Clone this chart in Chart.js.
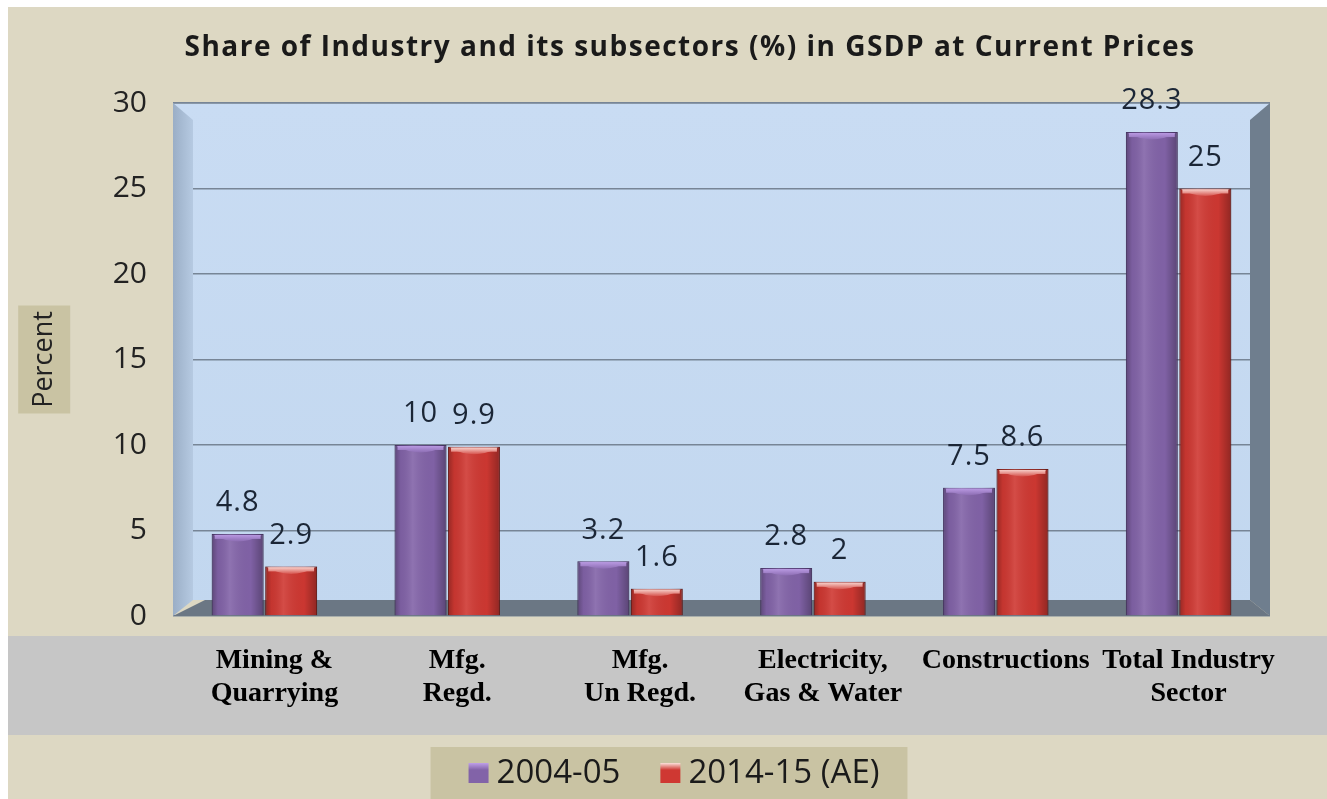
<!DOCTYPE html>
<html><head><meta charset="utf-8">
<script src="https://cdn.jsdelivr.net/npm/chart.js@4.4.0/dist/chart.umd.min.js"></script>
<style>html,body{margin:0;padding:0;background:#fff;overflow:hidden}</style>
</head><body>
<canvas id="c" width="1327" height="799"></canvas>
<script>
const categories = [["Mining &","Quarrying"],["Mfg.","Regd."],["Mfg.","Un Regd."],["Electricity,","Gas & Water"],["Constructions"],["Total Industry","Sector"]];
const series2004 = [4.8, 10, 3.2, 2.8, 7.5, 28.3];
const series2014 = [2.9, 9.9, 1.6, 2, 8.6, 25];
const seriesNames = ["2004-05", "2014-15 (AE)"];
const yTicks = [0, 5, 10, 15, 20, 25, 30];
const chartTitle = "Share of Industry and its subsectors (%) in GSDP at Current Prices";
const yTitle = "Percent";

const DEPTH = 20, RISE = 17, FLOOR = 16;
const BASE_COLORS = ['#8263a8', '#cf3832'];
const CAP_COLORS = ['#bf9fe8', '#fbe0da'];
const TAN = '#c9c3a3';

const backdrop = {
  id: 'backdrop',
  beforeDraw(chart) {
    const {ctx, chartArea: a, width, height} = chart;
    ctx.save();
    ctx.fillStyle = '#ffffff'; ctx.fillRect(0, 0, width, height);
    ctx.fillStyle = '#ddd8c3'; ctx.fillRect(8, 7, width - 8, height - 7);
    ctx.fillStyle = '#c6c6c6'; ctx.fillRect(8, a.bottom + 20, width - 8, 99);
    const ys = chart.scales.y;
    const tf = Chart.helpers.toFont(ys.options.title.font);
    const cx = ys.left + ys.options.title.padding.top + tf.lineHeight / 2;
    const cy = (a.top + a.bottom) / 2;
    ctx.fillStyle = TAN;
    ctx.fillRect(cx - 26, cy - 54, 52, 108);
    const g = ctx.createLinearGradient(0, a.top, 0, a.bottom);
    g.addColorStop(0, '#c9dcf3'); g.addColorStop(1, '#c2d7ef');
    ctx.fillStyle = g;
    ctx.fillRect(a.left, a.top, a.right - a.left, a.bottom - FLOOR - a.top);
    ctx.strokeStyle = '#8d9aa8'; ctx.lineWidth = 1.5;
    ctx.beginPath(); ctx.moveTo(a.left, a.top); ctx.lineTo(a.right, a.top); ctx.stroke();
    ctx.restore();
  },
  beforeDatasetsDraw(chart) {
    const {ctx, chartArea: a} = chart;
    const L = a.left, R = a.right, T = a.top, B = a.bottom;
    ctx.save();
    let g = ctx.createLinearGradient(L, 0, L + DEPTH, 0);
    g.addColorStop(0, '#9aaec6'); g.addColorStop(1, '#b6cae2');
    ctx.fillStyle = g;
    ctx.beginPath(); ctx.moveTo(L, T); ctx.lineTo(L + DEPTH, T + RISE); ctx.lineTo(L + DEPTH, B - FLOOR); ctx.lineTo(L, B); ctx.closePath(); ctx.fill();
    ctx.fillStyle = '#6f7e8e';
    ctx.beginPath(); ctx.moveTo(R - DEPTH, T + RISE); ctx.lineTo(R, T); ctx.lineTo(R, B); ctx.lineTo(R - DEPTH, B - FLOOR); ctx.closePath(); ctx.fill();
    ctx.fillStyle = '#6b7784';
    ctx.beginPath(); ctx.moveTo(L, B); ctx.lineTo(L + DEPTH + 12, B - FLOOR); ctx.lineTo(R - DEPTH, B - FLOOR); ctx.lineTo(R, B); ctx.closePath(); ctx.fill();
    ctx.restore();
  },
  afterDatasetsDraw(chart) {
    const {ctx} = chart;
    ctx.save();
    ctx.letterSpacing = '1px';
    chart.data.datasets.forEach((ds, di) => {
      const meta = chart.getDatasetMeta(di);
      meta.data.forEach((bar, i) => {
        const {x, y, base, width} = bar.getProps(['x', 'y', 'base', 'width'], true);
        const l = x - width / 2;
        const g = ctx.createLinearGradient(l, 0, l + width, 0);
        g.addColorStop(0, 'rgba(0,0,0,0.28)');
        g.addColorStop(0.12, 'rgba(0,0,0,0.05)');
        g.addColorStop(0.35, 'rgba(255,255,255,0.10)');
        g.addColorStop(0.75, 'rgba(0,0,0,0.02)');
        g.addColorStop(1, 'rgba(0,0,0,0.30)');
        ctx.fillStyle = g;
        ctx.fillRect(l, y, width, base - y);
        const cg = ctx.createLinearGradient(0, y, 0, y + 9);
        cg.addColorStop(0, CAP_COLORS[di]);
        cg.addColorStop(1, BASE_COLORS[di]);
        ctx.fillStyle = cg;
        ctx.beginPath();
        ctx.moveTo(l + 2, y + 1);
        ctx.lineTo(l + width - 2, y + 1);
        ctx.quadraticCurveTo(l + width / 2, y + 14, l + 2, y + 1);
        ctx.fill();
        ctx.fillRect(l + 3, y + 1, width - 6, 4);
        ctx.fillStyle = '#1b2636';
        ctx.font = '29px "Open Sans"';
        ctx.textAlign = 'center';
        ctx.textBaseline = 'middle';
        ctx.fillText(String(ds.data[i]), x, y - 31);
      });
    });
    ctx.restore();
  },
  afterDraw(chart) {
    const {ctx, width, height} = chart;
    ctx.save();
    // title
    ctx.letterSpacing = '1.5px';
    ctx.fillStyle = '#1a1a1a';
    ctx.font = 'bold 28px "Open Sans"';
    ctx.textAlign = 'center';
    ctx.textBaseline = 'middle';
    ctx.fillText(chartTitle, 690, 48);
    // legend
    ctx.letterSpacing = '0px';
    ctx.font = '33px "Open Sans"';
    ctx.textAlign = 'left';
    const box = 20, gap = 8, itemGap = 40;
    const items = chart.data.datasets.map(ds => ({text: ds.label, color: ds.backgroundColor, w: ctx.measureText(ds.label).width}));
    const total = items.reduce((s, it) => s + box + gap + it.w, 0) + itemGap * (items.length - 1);
    let x = 674 - total / 2;
    const cy = 773;
    ctx.fillStyle = TAN;
    ctx.fillRect(x - 38, 747, total + 66, height - 747);
    items.forEach((it, k) => {
      const bg = ctx.createLinearGradient(0, cy - box / 2, 0, cy + box / 2);
      bg.addColorStop(0, CAP_COLORS[k]); bg.addColorStop(0.35, it.color); bg.addColorStop(1, it.color);
      ctx.fillStyle = bg;
      ctx.fillRect(x, cy - box / 2, box, box);
      ctx.fillStyle = '#1a1a1a';
      ctx.fillText(it.text, x + box + gap, cy + 1);
      x += box + gap + it.w + itemGap;
    });
    ctx.restore();
  }
};

new Chart(document.getElementById('c'), {
  type: 'bar',
  data: {
    labels: categories,
    datasets: [
      {label: seriesNames[0], data: series2004, backgroundColor: BASE_COLORS[0], borderColor: '#5e4682', borderWidth: 1},
      {label: seriesNames[1], data: series2014, backgroundColor: BASE_COLORS[1], borderColor: '#8e211c', borderWidth: 1}
    ]
  },
  options: {
    responsive: false,
    animation: false,
    layout: {padding: {left: 0, right: 57, top: 103, bottom: 0}},
    datasets: {bar: {categoryPercentage: 0.585, barPercentage: 0.97}},
    plugins: {
      title: {display: false},
      legend: {display: false},
      tooltip: {enabled: false}
    },
    scales: {
      x: {
        grid: {display: false, drawTicks: false},
        border: {display: false},
        ticks: {color: '#000', font: {family: '"Liberation Serif"', size: 28, weight: 'bold', lineHeight: 1.18}, padding: 28, maxRotation: 0, autoSkip: false, labelOffset: 10},
        afterFit(s) { s.height = 183; }
      },
      y: {
        min: 0, max: 30,
        afterBuildTicks(s) { s.ticks = yTicks.map(v => ({value: v})); },
        grid: {color: '#778596', lineWidth: 1.5, drawTicks: false},
        border: {display: false},
        ticks: {color: '#222', font: {family: '"Open Sans"', size: 30}, padding: 26},
        title: {display: true, text: yTitle, color: '#222', font: {family: '"Open Sans"', size: 27, lineHeight: 1.2}, padding: {top: 28, bottom: 0}},
        afterFit(s) { s.width = 173; }
      }
    }
  },
  plugins: [backdrop]
});
</script>
</body></html>
